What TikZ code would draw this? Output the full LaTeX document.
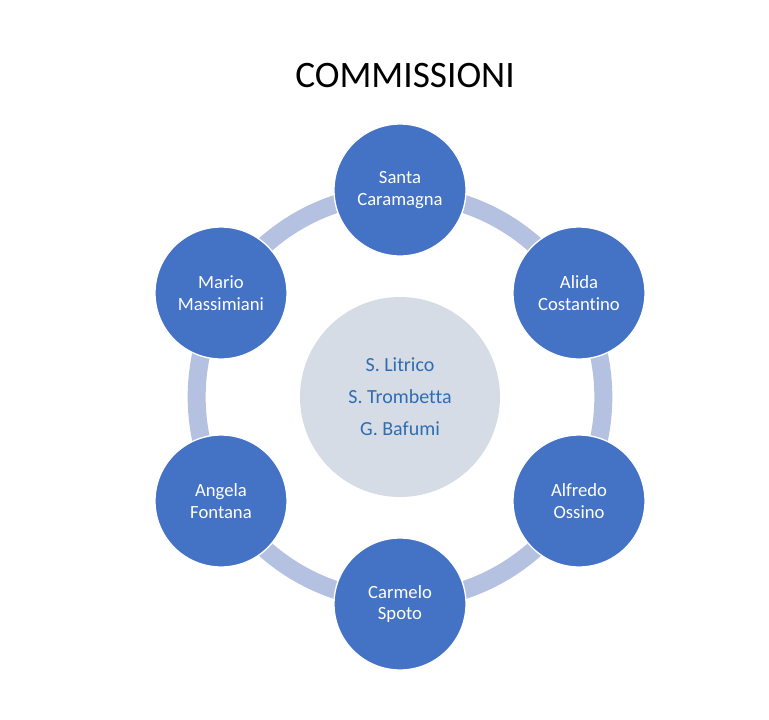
\documentclass[tikz,border=0pt]{standalone}
\usepackage{fontspec}
\setmainfont[Ligatures=NoCommon]{Carlito}
\usepackage{tikz}
\usetikzlibrary{positioning}
\usepackage{xcolor}
\definecolor{nodeblue}{HTML}{4472C4}
\definecolor{ringblue}{HTML}{B4C1E0}
\definecolor{coregray}{HTML}{D6DCE5}
\definecolor{coretext}{HTML}{2E6DB4}

\begin{document}
\begin{tikzpicture}[x=0.75pt, y=-0.75pt,
    member/.style={circle, fill=nodeblue, draw=white, line width=1pt, minimum size=99pt, inner sep=0pt, align=center, text=white, font=\fontsize{14}{16}\selectfont},
    core/.style={circle, fill=coregray, minimum size=150pt, inner sep=0pt, align=center, text=coretext, font=\fontsize{15}{24}\selectfont},
    ring/.style={draw=ringblue, line width=13.5pt}]

\useasboundingbox (0,0) rectangle (769,719);

\node[font=\fontsize{28}{32}\selectfont, anchor=base] (title) at (405,87) {COMMISSIONI};

\coordinate (hub) at (400,397);
\draw[ring] (hub) circle[radius=152.5pt];
\node[core] (centre) at (hub) {S. Litrico\\S. Trombetta\\G. Bafumi};

\node[member] (santa) at (400,190) {Santa\\Caramagna};
\node[member] (alida) at (579,293) {Alida\\Costantino};
\node[member] (alfredo) at (579,501) {Alfredo\\Ossino};
\node[member] (carmelo) at (400,604) {Carmelo\\Spoto};
\node[member] (angela) at (221,501) {Angela\\Fontana};
\node[member] (mario) at (221,293) {Mario\\Massimiani};
\end{tikzpicture}
\end{document}
